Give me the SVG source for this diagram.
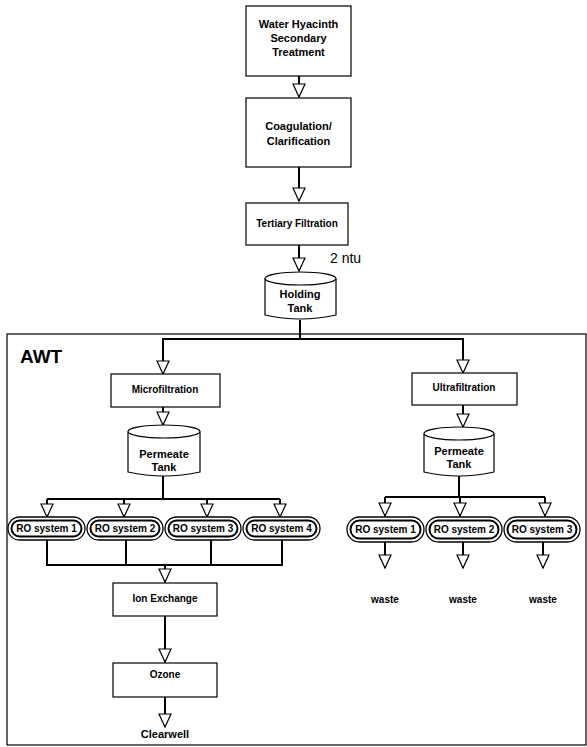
<svg xmlns="http://www.w3.org/2000/svg" width="587" height="747" viewBox="0 0 587 747">
<style>
  .box { fill: #fff; stroke: #000; stroke-width: 1.2; }
  .t { font-family: "Liberation Sans", Arial, sans-serif; font-weight: bold; font-size: 10px; text-anchor: middle; fill: #000; }
  .l { font-size: 11px; }
  .c { fill: none; stroke: #000; stroke-width: 2; }
  .pillo { fill: #fff; stroke: #000; stroke-width: 1.3; }
  .pilli { fill: #fff; stroke: #000; stroke-width: 2; }
  .frame { fill: none; stroke: #000; stroke-width: 1.2; }
</style>
<defs>
  <marker id="arr" markerUnits="userSpaceOnUse" markerWidth="16" markerHeight="16" refX="14" refY="7" orient="auto" viewBox="0 0 16 16">
    <path d="M1,1 L1,13 L14,7 Z" fill="#fff" stroke="#000" stroke-width="1.2"/>
  </marker>
</defs>
<rect width="587" height="747" fill="#fff"/>

<g id="awt-frame">
  <rect class="frame" x="7" y="334" width="579" height="411"/>
  <text x="20" y="363" font-family="Liberation Sans, Arial, sans-serif" font-weight="bold" font-size="19">AWT</text>
</g>

<g id="connectors">
  <path class="c" d="M299,76 V97" marker-end="url(#arr)"/>
  <path class="c" d="M299,167 V201" marker-end="url(#arr)"/>
  <path class="c" d="M299,245 V271" marker-end="url(#arr)"/>
  <path class="c" d="M300,320 V339 H163 V374" marker-end="url(#arr)"/>
  <path class="c" d="M300,339 H463 V373" marker-end="url(#arr)"/>
  <path class="c" d="M163,407 V425" marker-end="url(#arr)"/>
  <path class="c" d="M463,405 V427" marker-end="url(#arr)"/>
  <path class="c" d="M163,476 V499"/>
  <path class="c" d="M47,499 H280"/>
  <path class="c" d="M47,499 V517" marker-end="url(#arr)"/>
  <path class="c" d="M124,499 V517" marker-end="url(#arr)"/>
  <path class="c" d="M207,499 V517" marker-end="url(#arr)"/>
  <path class="c" d="M280,499 V517" marker-end="url(#arr)"/>
  <path class="c" d="M47,540 V565 H282 V540"/>
  <path class="c" d="M126,540 V565"/>
  <path class="c" d="M211,540 V565"/>
  <path class="c" d="M165,565 V582" marker-end="url(#arr)"/>
  <path class="c" d="M165,616 V662" marker-end="url(#arr)"/>
  <path class="c" d="M165,697 V727" marker-end="url(#arr)"/>
  <path class="c" d="M459,476 V497"/>
  <path class="c" d="M385,497 H545"/>
  <path class="c" d="M385,497 V516" marker-end="url(#arr)"/>
  <path class="c" d="M460,497 V516" marker-end="url(#arr)"/>
  <path class="c" d="M545,497 V516" marker-end="url(#arr)"/>
  <path class="c" d="M385,542 V568" marker-end="url(#arr)"/>
  <path class="c" d="M463,542 V568" marker-end="url(#arr)"/>
  <path class="c" d="M543,542 V568" marker-end="url(#arr)"/>
  <text x="330" y="263" font-family="Liberation Sans, Arial, sans-serif" font-size="14">2 ntu</text>
</g>

<g id="water-hyacinth">
  <rect class="box" x="246" y="6" width="105" height="70"/>
  <text class="t l" x="298.5" y="28">Water Hyacinth</text>
  <text class="t l" x="298.5" y="42">Secondary</text>
  <text class="t l" x="298.5" y="56">Treatment</text>
</g>

<g id="coagulation">
  <rect class="box" x="246" y="98" width="105" height="69"/>
  <text class="t l" x="298.5" y="130">Coagulation/</text>
  <text class="t l" x="298.5" y="145">Clarification</text>
</g>

<g id="tertiary">
  <rect class="box" x="246" y="203" width="102" height="42"/>
  <text class="t" x="297" y="227">Tertiary Filtration</text>
</g>

<g id="holding-tank">
  <path class="box" d="M265,278.5 V315 Q300,323 336,315 V278.5"/>
  <ellipse class="box" cx="300.5" cy="278.5" rx="35.5" ry="6.5"/>
  <text class="t l" x="300" y="298">Holding</text>
  <text class="t l" x="300" y="312">Tank</text>
</g>

<g id="microfiltration">
  <rect class="box" x="111" y="374" width="109" height="33"/>
  <text class="t" x="165" y="393">Microfiltration</text>
</g>

<g id="ultrafiltration">
  <rect class="box" x="412" y="373" width="105" height="32"/>
  <text class="t" x="464" y="391">Ultrafiltration</text>
</g>

<g id="permeate-tank-left">
  <path class="box" d="M128,431.5 V472 Q164,480 200,472 V431.5"/>
  <ellipse class="box" cx="164" cy="431.5" rx="36" ry="6.5"/>
  <text class="t l" x="164" y="458">Permeate</text>
  <text class="t l" x="164" y="471">Tank</text>
</g>

<g id="permeate-tank-right">
  <path class="box" d="M424,433.5 V472 Q459,480 494,472 V433.5"/>
  <ellipse class="box" cx="459" cy="433.5" rx="35" ry="6.5"/>
  <text class="t l" x="459" y="455">Permeate</text>
  <text class="t l" x="459" y="468">Tank</text>
</g>

<g id="ro-left-1">
  <rect class="pillo" x="8" y="517" width="77" height="23" rx="11.5"/>
  <rect class="pilli" x="11.5" y="520.5" width="70" height="16" rx="8"/>
  <text class="t" x="46.5" y="532">RO system 1</text>
</g>
<g id="ro-left-2">
  <rect class="pillo" x="87" y="517" width="76" height="23" rx="11.5"/>
  <rect class="pilli" x="90.5" y="520.5" width="69" height="16" rx="8"/>
  <text class="t" x="125" y="532">RO system 2</text>
</g>
<g id="ro-left-3">
  <rect class="pillo" x="165" y="517" width="76" height="23" rx="11.5"/>
  <rect class="pilli" x="168.5" y="520.5" width="69" height="16" rx="8"/>
  <text class="t" x="203" y="532">RO system 3</text>
</g>
<g id="ro-left-4">
  <rect class="pillo" x="243" y="517" width="77" height="23" rx="11.5"/>
  <rect class="pilli" x="246.5" y="520.5" width="70" height="16" rx="8"/>
  <text class="t" x="281.5" y="532">RO system 4</text>
</g>

<g id="ro-right-1">
  <rect class="pillo" x="347" y="517" width="77" height="25" rx="12.5"/>
  <rect class="pilli" x="350.5" y="520.5" width="70" height="18" rx="9"/>
  <text class="t" x="385.5" y="533">RO system 1</text>
</g>
<g id="ro-right-2">
  <rect class="pillo" x="426" y="517" width="76" height="25" rx="12.5"/>
  <rect class="pilli" x="429.5" y="520.5" width="69" height="18" rx="9"/>
  <text class="t" x="464" y="533">RO system 2</text>
</g>
<g id="ro-right-3">
  <rect class="pillo" x="504" y="517" width="76" height="25" rx="12.5"/>
  <rect class="pilli" x="507.5" y="520.5" width="69" height="18" rx="9"/>
  <text class="t" x="542" y="533">RO system 3</text>
</g>

<g id="waste-1"><text class="t" x="385" y="603">waste</text></g>
<g id="waste-2"><text class="t" x="463" y="603">waste</text></g>
<g id="waste-3"><text class="t" x="543" y="603">waste</text></g>

<g id="ion-exchange">
  <rect class="box" x="113" y="583" width="104" height="33"/>
  <text class="t" x="165" y="602">Ion Exchange</text>
</g>

<g id="ozone">
  <rect class="box" x="113" y="663" width="104" height="34"/>
  <text class="t" x="165" y="678">Ozone</text>
</g>

<g id="clearwell"><text class="t l" x="165" y="738">Clearwell</text></g>
</svg>
